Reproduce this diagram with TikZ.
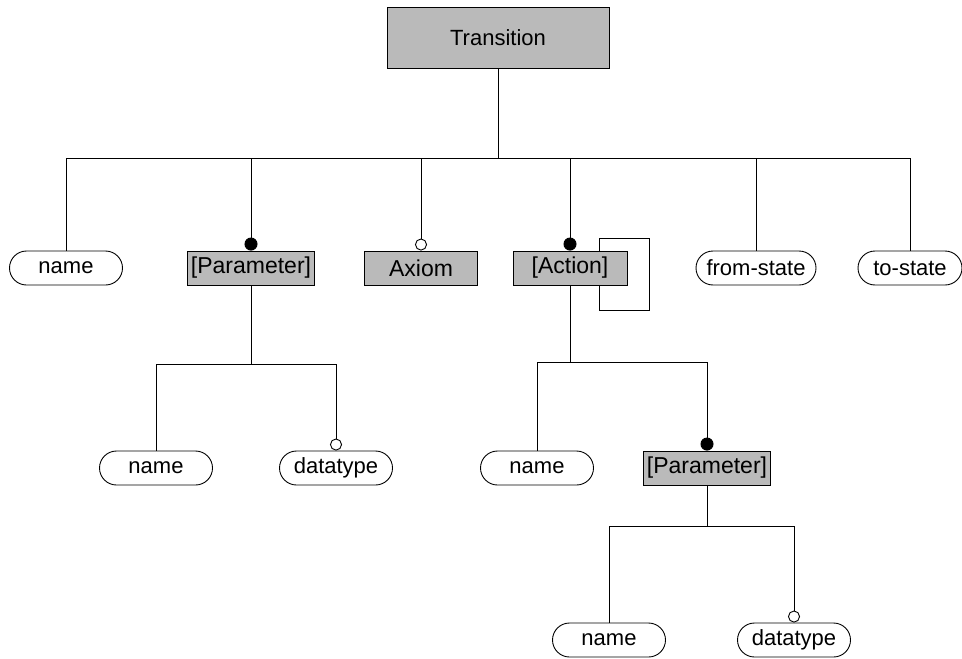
\documentclass[tikz,border=0pt]{standalone}
\usepackage{fontspec}
\setmainfont{Liberation Sans}
\usetikzlibrary{arrows.meta}
\tikzstyle{entity} = [rectangle, draw=black, fill=black!27, minimum width=57pt, minimum height=17pt, inner sep=1pt, text centered, font=\fontsize{11.5}{13}\selectfont]
\tikzstyle{attrib} = [rectangle, rounded corners=8.5pt, draw=black, fill=white, minimum width=56.5pt, minimum height=17pt, inner sep=2pt, text centered, font=\fontsize{11}{13}\selectfont]
\tikzstyle{many} = [-{Circle[length=6.5pt]}]
\tikzstyle{opt} = [-{Circle[open,length=6pt]}]

\begin{document}
\begin{tikzpicture}[x=0.5pt, y=-0.5pt, line width=0.45pt]
        \useasboundingbox (0,0) rectangle (962,658);
        % top of the tree
        \node (trans) [entity, minimum width=111pt, minimum height=30.5pt, font=\fontsize{11}{13}\selectfont] at (498,38) {Transition};
        \coordinate (bus) at (0,158);

        \node (name) [attrib] at (66,268) {name};
        \node (param) [entity, minimum width=63.5pt] at (251,268) {[Parameter]};
        \node (axiom) [entity, minimum width=56.5pt] at (421,268) {Axiom};
        \node (action) [entity] at (570,268) {[Action]};
        \node (from) [attrib, minimum width=60pt] at (756,268) {from-state};
        \node (to) [attrib, minimum width=52pt] at (910,268) {to-state};

        \draw (trans) -- (trans |- bus);
        \draw (name |- bus) -- (to |- bus);
        \draw (name |- bus) -- (name);
        \draw [many] (param |- bus) -- (param.north);
        \draw [opt] (axiom |- bus) -- (axiom.north);
        \draw [many] (action |- bus) -- (action.north);
        \draw (from |- bus) -- (from);
        \draw (to |- bus) -- (to);

        % recursive action
        \draw ([xshift=14.5pt]action.north) -- ++(0,-12) -- ++(50,0) -- ++(0,72) -- ++(-50,0) -- ([xshift=14.5pt]action.south);

        % parameter of the transition
        \coordinate (pbus) at (0,364);
        \node (pname) [attrib] at (156,468) {name};
        \node (ptype) [attrib] at (336,468) {datatype};
        \draw (param) -- (param |- pbus);
        \draw (pname |- pbus) -- (ptype |- pbus);
        \draw (pname |- pbus) -- (pname);
        \draw [opt] (ptype |- pbus) -- (ptype.north);

        % action and its parameter
        \coordinate (abus) at (0,362);
        \node (aname) [attrib] at (537,468) {name};
        \node (aparam) [entity, minimum width=63.5pt] at (707,468) {[Parameter]};
        \draw (action) -- (action |- abus);
        \draw (aname |- abus) -- (aparam |- abus);
        \draw (aname |- abus) -- (aname);
        \draw [many] (aparam |- abus) -- (aparam.north);

        \coordinate (qbus) at (0,526);
        \node (qname) [attrib] at (609,640) {name};
        \node (qtype) [attrib] at (794,640) {datatype};
        \draw (aparam) -- (aparam |- qbus);
        \draw (qname |- qbus) -- (qtype |- qbus);
        \draw (qname |- qbus) -- (qname);
        \draw [opt] (qtype |- qbus) -- (qtype.north);
\end{tikzpicture}
\end{document}
